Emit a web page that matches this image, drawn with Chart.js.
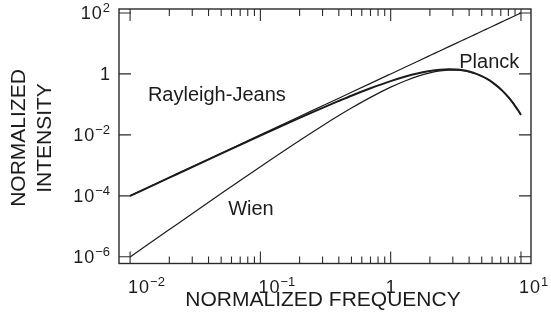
<!DOCTYPE html>
<html>
<head>
<meta charset="utf-8">
<script src="https://cdn.jsdelivr.net/npm/chart.js@4"></script>
<style>
  html, body { margin: 0; padding: 0; background: #fff; }
  #wrap { width: 551px; height: 328px; }
</style>
</head>
<body>
<div id="wrap"><canvas id="spectrumChart" width="551" height="328"></canvas></div>
<script>
// Normalized frequency samples shared by the three curves
const frequency = [0.01, 0.02, 0.05, 0.1, 0.2, 0.3, 0.4, 0.5, 0.7, 1, 1.3, 1.6, 2, 2.4, 2.8,
    3.2, 3.6, 4, 4.5, 5, 5.5, 6, 6.5, 7, 7.5, 8, 8.5, 9, 9.5, 10];

const rayleighJeans = [1e-4, 4e-4, 2.5e-3, 0.01, 0.04, 0.09, 0.16, 0.25, 0.49, 1, 1.69, 2.56, 4, 5.76, 7.84,
    10.24, 12.96, 16, 20.25, 25, 30.25, 36, 42.25, 49, 56.25, 64, 72.25, 81, 90.25, 100];

const planck = [9.95e-5, 3.96e-4, 2.44e-3, 9.51e-3, 0.0361, 0.0772, 0.130, 0.193, 0.338, 0.582, 0.823, 1.036, 1.252, 1.379, 1.421,
    1.392, 1.311, 1.194, 1.024, 0.848, 0.683, 0.537, 0.4135, 0.313, 0.2335, 0.172, 0.125, 0.090, 0.0642, 0.0454];

const wien = [9.9e-7, 7.84e-6, 1.19e-4, 9.05e-4, 6.55e-3, 0.0200, 0.0429, 0.0758, 0.170, 0.368, 0.599, 0.827, 1.083, 1.254, 1.335,
    1.336, 1.275, 1.172, 1.0125, 0.842, 0.680, 0.5355, 0.4128, 0.3128, 0.2333, 0.1717, 0.125, 0.090, 0.0642, 0.0454];

// Axis ticks (powers of ten) and curve labels
const xMajorExponents = [-2, -1, 0, 1];
const xMinorMultipliers = [2, 3, 4, 5, 6, 7, 8, 9];
const yMajorExponents = [-6, -4, -2, 0, 2];
const curveLabels = [
    { text: 'Rayleigh-Jeans', x: 0.0137, y: 0.125 },
    { text: 'Planck', x: 3.36, y: 1.55 },
    { text: 'Wien', x: 0.0566, y: 2.43e-5 }
];

const ink = '#1c1c1c';
const fontFamily = '"Liberation Sans", Arial, Helvetica, sans-serif';

function toPoints(ys) {
    return frequency.map((f, i) => ({ x: f, y: ys[i] }));
}

// Draws "10" with a raised exponent, or "1" for exponent 0
function drawPower(ctx, exp, x, baseline, align) {
    ctx.textBaseline = 'alphabetic';
    ctx.textAlign = 'left';
    ctx.font = '18px ' + fontFamily;
    if (exp === 0) {
        const w = ctx.measureText('1').width;
        const left = align === 'right' ? x - w : x - w / 2;
        ctx.fillText('1', left, baseline);
        return;
    }
    const expText = String(exp).replace('-', '\u2212');
    ctx.letterSpacing = '1px';
    const wBase = ctx.measureText('10').width;
    ctx.font = '13px ' + fontFamily;
    ctx.letterSpacing = '0px';
    const wExp = ctx.measureText(expText).width;
    const left = align === 'right' ? x - wBase - wExp : x;
    ctx.font = '18px ' + fontFamily;
    ctx.letterSpacing = '1px';
    ctx.fillText('10', left, baseline);
    ctx.letterSpacing = '0px';
    ctx.font = '13px ' + fontFamily;
    ctx.fillText(expText, left + wBase, baseline - 7);
}

// Frame, inward ticks, tick labels, axis titles and curve labels
const framePlugin = {
    id: 'frame',
    afterDraw(chart) {
        const ctx = chart.ctx;
        const area = chart.chartArea;
        const xs = chart.scales.x;
        const ys = chart.scales.y;
        ctx.save();
        ctx.strokeStyle = '#2a2a2a';
        ctx.fillStyle = ink;
        ctx.lineWidth = 1.4;
        ctx.strokeRect(area.left, area.top, area.right - area.left, area.bottom - area.top);

        ctx.lineWidth = 1.1;
        ctx.beginPath();
        xMajorExponents.forEach(e => {
            const px = xs.getPixelForValue(Math.pow(10, e));
            ctx.moveTo(px, area.bottom); ctx.lineTo(px, area.bottom - 12);
            ctx.moveTo(px, area.top); ctx.lineTo(px, area.top + 12);
            if (e < 1) {
                xMinorMultipliers.forEach(m => {
                    const mx = xs.getPixelForValue(m * Math.pow(10, e));
                    ctx.moveTo(mx, area.bottom); ctx.lineTo(mx, area.bottom - 7);
                    ctx.moveTo(mx, area.top); ctx.lineTo(mx, area.top + 7);
                });
            }
        });
        yMajorExponents.forEach(e => {
            const py = ys.getPixelForValue(Math.pow(10, e));
            ctx.moveTo(area.left, py); ctx.lineTo(area.left + 12, py);
            ctx.moveTo(area.right, py); ctx.lineTo(area.right - 12, py);
        });
        ctx.stroke();

        yMajorExponents.forEach(e => {
            const py = ys.getPixelForValue(Math.pow(10, e));
            drawPower(ctx, e, area.left - 9, py + 6, 'right');
        });
        xMajorExponents.forEach(e => {
            const px = xs.getPixelForValue(Math.pow(10, e));
            drawPower(ctx, e, e === 0 ? px : px - 2, area.bottom + 29, e === 0 ? 'center' : 'left');
        });

        // Axis titles
        ctx.font = '21px ' + fontFamily;
        ctx.textAlign = 'center';
        ctx.textBaseline = 'alphabetic';
        ctx.fillText('NORMALIZED FREQUENCY', (area.left + area.right) / 2 - 2, 306);
        ctx.save();
        ctx.translate(0, 138);
        ctx.rotate(-Math.PI / 2);
        ctx.fillText('NORMALIZED', 0, 25);
        ctx.fillText('INTENSITY', 0, 50.5);
        ctx.restore();

        // Curve labels
        ctx.font = '20px ' + fontFamily;
        ctx.textAlign = 'left';
        curveLabels.forEach(l => {
            ctx.fillText(l.text, xs.getPixelForValue(l.x), ys.getPixelForValue(l.y));
        });
        ctx.restore();
    }
};

function createSpectrumChart() {
    const ctx = document.getElementById('spectrumChart').getContext('2d');
    const lineStyle = {
        borderColor: ink,
        pointRadius: 0,
        fill: false,
        showLine: true,
        cubicInterpolationMode: 'monotone'
    };

    new Chart(ctx, {
        type: 'scatter',
        data: {
            datasets: [
                Object.assign({ label: 'Rayleigh-Jeans', data: toPoints(rayleighJeans), borderWidth: 1.2 }, lineStyle),
                Object.assign({ label: 'Planck', data: toPoints(planck), borderWidth: 2 }, lineStyle),
                Object.assign({ label: 'Wien', data: toPoints(wien), borderWidth: 1.2 }, lineStyle)
            ]
        },
        options: {
            responsive: false,
            animation: false,
            layout: { padding: { left: 119, right: 20, top: 9, bottom: 64.5 } },
            scales: {
                x: { type: 'logarithmic', display: false, min: 0.00822, max: 11.94 },
                y: { type: 'logarithmic', display: false, min: 6.03e-7, max: 134.9 }
            },
            plugins: {
                legend: { display: false },
                tooltip: { enabled: false }
            }
        },
        plugins: [framePlugin]
    });
}

document.addEventListener('DOMContentLoaded', createSpectrumChart);
</script>
</body>
</html>
